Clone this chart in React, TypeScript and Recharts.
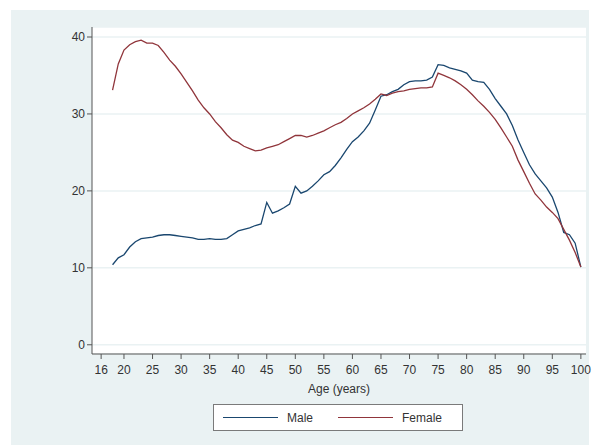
import React from "react";
import { LineChart, Line, CartesianGrid, XAxis, YAxis } from "recharts";

const ages = [
  18, 19, 20, 21, 22, 23, 24, 25, 26, 27, 28, 29, 30, 31, 32, 33, 34, 35, 36, 37,
  38, 39, 40, 41, 42, 43, 44, 45, 46, 47, 48, 49, 50, 51, 52, 53, 54, 55, 56, 57,
  58, 59, 60, 61, 62, 63, 64, 65, 66, 67, 68, 69, 70, 71, 72, 73, 74, 75, 76, 77,
  78, 79, 80, 81, 82, 83, 84, 85, 86, 87, 88, 89, 90, 91, 92, 93, 94, 95, 96, 97,
  98, 99, 100,
];

const male = [
  10.4, 11.3, 11.7, 12.7, 13.4, 13.8, 13.9, 14.0, 14.2, 14.3, 14.3, 14.2, 14.1, 14.0,
  13.9, 13.7, 13.7, 13.8, 13.7, 13.7, 13.8, 14.3, 14.8, 15.0, 15.2, 15.5, 15.7, 18.5,
  17.1, 17.4, 17.8, 18.3, 20.6, 19.7, 20.0, 20.6, 21.3, 22.1, 22.5, 23.3, 24.3, 25.4,
  26.4, 27.0, 27.8, 28.8, 30.5, 32.3, 32.5, 32.9, 33.2, 33.8, 34.2, 34.3, 34.3, 34.4,
  34.8, 36.4, 36.3, 36.0, 35.8, 35.6, 35.3, 34.4, 34.2, 34.1, 33.2, 32.0, 31.0, 30.0,
  28.5, 26.6, 25.0, 23.4, 22.2, 21.3, 20.4, 19.2, 17.2, 14.6, 14.3, 13.2, 10.1,
];

const female = [
  33.1, 36.5, 38.3, 39.0, 39.4, 39.6, 39.2, 39.2, 38.9, 38.0, 37.0, 36.2, 35.2, 34.1,
  33.0, 31.8, 30.8, 30.0, 29.0, 28.2, 27.3, 26.6, 26.3, 25.8, 25.5, 25.2, 25.3, 25.6,
  25.8, 26.0, 26.4, 26.8, 27.2, 27.2, 27.0, 27.2, 27.5, 27.8, 28.2, 28.6, 28.9, 29.4,
  30.0, 30.4, 30.8, 31.3, 31.9, 32.6, 32.4, 32.7, 32.9, 33.0, 33.2, 33.3, 33.4, 33.4,
  33.5, 35.3, 35.0, 34.7, 34.3, 33.8, 33.2, 32.5, 31.7, 31.0, 30.2, 29.3, 28.2, 27.0,
  25.8, 24.0, 22.5, 21.0, 19.6, 18.8, 17.9, 17.2, 16.4, 15.0, 13.6, 12.0, 10.1,
];

const xTicks = [16, 20, 25, 30, 35, 40, 45, 50, 55, 60, 65, 70, 75, 80, 85, 90, 95, 100];
const yTicks = [0, 10, 20, 30, 40];

const chartData = ages.map((age, i) => ({ age, male: male[i], female: female[i] }));

const FONT = "'Liberation Sans', Arial, sans-serif";
const MALE_COLOR = "#1a476f";
const FEMALE_COLOR = "#90353b";

// stata-style legend box under the plot
function LegendBox() {
  return (
    <div
      style={{
        position: "absolute",
        left: 213,
        top: 404,
        width: 250,
        height: 27,
        background: "#fff",
        border: "1px solid #7a7a7a",
        display: "flex",
        alignItems: "center",
        fontFamily: FONT,
        fontSize: 12,
        color: "#333",
        boxSizing: "border-box",
      }}
    >
      <span style={{ marginLeft: 9, width: 55, height: 0, borderTop: `1.5px solid ${MALE_COLOR}` }} />
      <span style={{ marginLeft: 9 }}>Male</span>
      <span style={{ marginLeft: 25, width: 55, height: 0, borderTop: `1.5px solid ${FEMALE_COLOR}` }} />
      <span style={{ marginLeft: 9 }}>Female</span>
    </div>
  );
}

export default function App() {
  return (
    <div style={{ position: "absolute", left: 0, top: 0, width: 592, height: 445, background: "#fff" }}>
      {/* graph region */}
      <div style={{ position: "absolute", left: 11, top: 10, width: 578, height: 435, background: "#eaf2f3" }} />
      <div style={{ position: "absolute", left: 0, top: 0 }}>
        <LineChart width={592} height={445} data={chartData} margin={{ top: 27, right: 6, left: 52, bottom: 51 }}>
          <CartesianGrid vertical={false} fill="#ffffff" stroke="#eaf2f3" strokeWidth={1.5} />
          <XAxis
            dataKey="age"
            type="number"
            domain={[14.4, 100.9]}
            ticks={xTicks}
            interval={0}
            height={40}
            tickSize={5}
            tickMargin={6}
            stroke="#555"
            tick={{ fill: "#333", fontSize: 12, fontFamily: FONT }}
            label={{ value: "Age (years)", position: "insideBottom", offset: 1, fill: "#333", fontSize: 12, fontFamily: FONT }}
          />
          <YAxis
            type="number"
            domain={[-1.2, 41.3]}
            ticks={yTicks}
            width={40}
            tickSize={5}
            tickMargin={2}
            stroke="#555"
            tick={{ fill: "#333", fontSize: 12, fontFamily: FONT }}
          />
          <Line name="Male" type="linear" dataKey="male" stroke={MALE_COLOR} strokeWidth={1.3} dot={false} isAnimationActive={false} />
          <Line name="Female" type="linear" dataKey="female" stroke={FEMALE_COLOR} strokeWidth={1.3} dot={false} isAnimationActive={false} />
        </LineChart>
      </div>
      <LegendBox />
    </div>
  );
}
